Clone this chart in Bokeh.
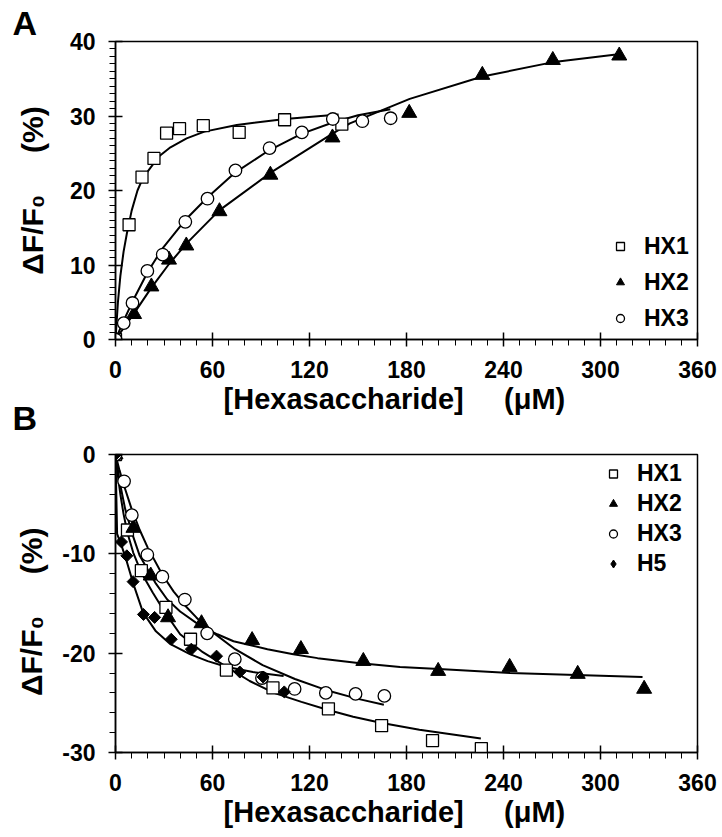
import math
from bokeh.plotting import figure
from bokeh.layouts import column
from bokeh.models import (Range1d, SingleIntervalTicker, Legend, LegendItem, Title,
                          PrintfTickFormatter)
from bokeh.embed import file_html
from bokeh.resources import INLINE

FONT = "Liberation Sans"

# ---------------- Panel A data ----------------
a_hx1_x = [0, 8.4, 16.4, 23.8, 31.6, 39.6, 54.3, 76.5, 104.6, 140.0]
a_hx1_y = [0, 15.4, 21.8, 24.3, 27.7, 28.3, 28.7, 27.8, 29.5, 28.9]
a_hx2_x = [0, 11.5, 22.2, 33.1, 43.8, 64.3, 95.8, 134.2, 181.7, 226.9, 270.5, 311.6]
a_hx2_y = [0, 3.4, 7.1, 10.7, 12.6, 17.2, 22.1, 27.1, 30.4, 35.5, 37.5, 38.1]
a_hx3_x = [0, 5.1, 10.5, 19.7, 29.2, 43.2, 56.9, 74.2, 95.3, 115.3, 134.4, 152.7, 170.2]
a_hx3_y = [0, 2.2, 4.9, 9.2, 11.4, 15.8, 18.9, 22.7, 25.7, 27.8, 29.6, 29.3, 29.7]

# fitted curves, panel A
a_hx1_fit_x = [0, 1.5, 3, 5, 7, 10, 13.6, 17, 21.8, 27, 34, 44, 55, 75, 105, 138]
a_hx1_fit_y = [0, 5.0, 8.5, 11.8, 14.2, 17.3, 20.0, 21.7, 23.1, 24.6, 25.8, 27.0, 27.9, 28.8, 29.6, 30.2]
a_hx2_fit_x = [0, 11.5, 22, 33, 44, 64, 96, 134, 145, 182, 227, 270, 311]
a_hx2_fit_y = [0, 3.5, 6.9, 10.1, 12.9, 17.3, 22.4, 27.6, 29.0, 32.3, 35.3, 37.2, 38.3]
a_hx3_fit_x = [0, 5, 11, 20, 29, 43, 57, 74, 95, 115, 134, 150, 170]
a_hx3_fit_y = [0, 2.5, 5.3, 9.1, 12.2, 16.0, 19.1, 22.4, 25.4, 27.6, 29.1, 30.1, 30.9]

# ---------------- Panel B data ----------------
b_hx1_x = [0, 7.4, 16.0, 31.2, 46.4, 68.6, 97.4, 131.7, 164.6, 196.1, 226.3]
b_hx1_y = [0, -7.6, -11.7, -15.4, -18.6, -21.7, -23.5, -25.6, -27.3, -28.8, -29.6]
b_hx2_x = [0, 11.1, 21.8, 32.5, 53.2, 84.5, 114.7, 153.3, 199.6, 243.8, 285.9, 327.0]
b_hx2_y = [0, -7.4, -12.2, -16.4, -17.0, -18.7, -19.6, -20.8, -21.8, -21.4, -22.1, -23.6]
b_hx3_x = [0, 5.3, 10.1, 19.7, 29.0, 42.9, 56.7, 73.8, 90.6, 110.8, 130.1, 148.5, 166.3]
b_hx3_y = [0, -2.7, -6.1, -10.1, -12.3, -14.6, -18.0, -20.6, -22.5, -23.6, -24.0, -24.1, -24.3]
b_h5_x = [0, 3.7, 7.0, 10.9, 17.3, 24.2, 34.5, 46.9, 62.5, 76.9, 91.3, 104.4]
b_h5_y = [0, -8.8, -10.2, -12.8, -16.1, -16.4, -18.6, -19.6, -20.3, -21.9, -22.4, -23.9]

b_hx1_fit_x = [0, 1.5, 3, 5, 7.4, 11, 16, 23, 31, 40, 54, 68, 83, 98, 115, 131, 147, 164, 188, 226]
b_hx1_fit_y = [0, -2.2, -4.0, -6.0, -7.9, -9.9, -11.9, -13.9, -16.0, -18.1, -19.9, -21.3, -22.8,
               -24.0, -24.9, -25.7, -26.4, -27.0, -27.7, -28.6]
b_hx2_fit_x = [0, 3, 6, 11, 15, 20, 25, 32, 40, 53, 63, 73, 94, 110, 125, 150, 176, 200, 244, 285, 326]
b_hx2_fit_y = [0, -3.1, -5.5, -8.3, -10.2, -11.6, -13.0, -14.6, -15.8, -17.3, -18.1, -18.8, -19.6,
               -20.1, -20.5, -21.0, -21.4, -21.6, -22.0, -22.2, -22.4]
b_hx3_fit_x = [0, 2.5, 5, 10, 15, 20, 29, 36, 43, 50, 57, 74, 91, 111, 130, 150, 166]
b_hx3_fit_y = [0, -1.6, -3.0, -5.5, -7.6, -9.4, -12.1, -13.8, -15.2, -16.4, -17.5, -19.6, -21.2,
               -22.6, -23.7, -24.6, -25.2]
b_h5_fit_x = [0, 1, 4, 7, 11, 17, 25, 34, 46, 57, 69, 85, 104]
b_h5_fit_y = [0, -8.0, -9.3, -10.8, -13.0, -15.9, -17.8, -19.1, -20.1, -20.8, -21.4, -21.9, -22.3]

NB = "\u00a0"
x_label = "[Hexasaccharide]" + NB * 5 + "(\u03bcM)" + NB * 3
y_label_a = "\u0394F/F\u2080" + NB * 5 + "(%)"
y_label_b = "\u0394F/F\u2080" + NB * 5 + "(%)" + NB * 2


def style_axes(p, y_minor, ylab, ystandoff):
    p.xaxis.ticker = SingleIntervalTicker(interval=60, num_minor_ticks=6)
    p.yaxis.ticker = SingleIntervalTicker(interval=10, num_minor_ticks=y_minor)
    p.yaxis.formatter = PrintfTickFormatter(format="%d")
    for ax in (p.xaxis, p.yaxis):
        ax.major_label_text_font = FONT
        ax.major_label_text_font_style = "bold"
        ax.major_label_text_font_size = "23px"
        ax.major_label_text_color = "black"
        ax.axis_label_text_font = FONT
        ax.axis_label_text_font_style = "bold"
        ax.axis_label_text_color = "black"
        ax.axis_line_width = 1.5
        ax.axis_line_color = "black"
        ax.major_tick_line_width = 1.5
        ax.major_tick_line_color = "black"
        ax.minor_tick_line_width = 1
        ax.minor_tick_line_color = "black"
        ax.major_tick_in = 7
        ax.major_tick_out = 7
        ax.minor_tick_in = 0
        ax.minor_tick_out = 6
    p.xaxis.major_label_standoff = 14
    p.yaxis.major_label_standoff = 13
    p.xaxis.axis_label = x_label
    p.xaxis.axis_label_text_font_size = "29px"
    p.xaxis.axis_label_standoff = 2
    p.yaxis.axis_label = ylab
    p.yaxis.axis_label_text_font_size = "30px"
    p.yaxis.axis_label_standoff = ystandoff
    p.grid.visible = False
    p.outline_line_color = "black"
    p.outline_line_width = 1.5
    p.background_fill_color = "white"
    p.border_fill_color = "white"


def letter(text, standoff, valign):
    return Title(text=text, align="left", offset=-103, standoff=standoff,
                 vertical_align=valign, text_font=FONT, text_font_style="bold",
                 text_font_size="34px", text_color="black")


def markers(p, xs, ys, kind):
    if kind == "square":
        return p.scatter(xs, ys, marker="square", size=12, fill_color="white",
                         line_color="black", line_width=1.3)
    if kind == "triangle":
        return p.scatter(xs, ys, marker="triangle", size=15, fill_color="black",
                         line_color="black", line_width=1)
    if kind == "circle":
        return p.scatter(xs, ys, marker="circle", size=12.5, fill_color="white",
                         line_color="black", line_width=1.3)
    return p.scatter(xs, ys, marker="square", size=8.5, angle=math.pi / 4,
                     fill_color="black", line_color="black", line_width=1)


def make_legend(items, loc, gh, sp):
    return Legend(items=items, location=loc, glyph_width=20, glyph_height=gh, label_height=gh,
                  spacing=sp, padding=0, margin=0, label_standoff=14,
                  label_text_font=FONT, label_text_font_style="bold", label_text_font_size="23px",
                  label_text_color="black", border_line_color=None, background_fill_alpha=0)


# ---------------- Panel A ----------------
pa = figure(width=722, height=440, x_range=Range1d(0, 360), y_range=Range1d(0, 40),
            output_backend="svg", toolbar_location=None,
            min_border_left=115, min_border_right=24, min_border_top=41, min_border_bottom=101)
style_axes(pa, 10, y_label_a, 18)
for fx, fy in ((a_hx1_fit_x, a_hx1_fit_y), (a_hx2_fit_x, a_hx2_fit_y), (a_hx3_fit_x, a_hx3_fit_y)):
    pa.line(fx, fy, line_color="black", line_width=2)
ra1 = markers(pa, a_hx1_x, a_hx1_y, "square")
ra2 = markers(pa, a_hx2_x, a_hx2_y, "triangle")
ra3 = markers(pa, a_hx3_x, a_hx3_y, "circle")
pa.add_layout(make_legend([LegendItem(label="HX1", renderers=[ra1]),
                           LegendItem(label="HX2", renderers=[ra2]),
                           LegendItem(label="HX3", renderers=[ra3])], (495, 6), 30, 6))
pa.add_layout(letter("A", 0, "bottom"), "above")
pa.add_layout(letter("B", -37, "top"), "below")

# ---------------- Panel B ----------------
pb = figure(width=722, height=397, x_range=Range1d(0, 360), y_range=Range1d(-30, 0),
            output_backend="svg", toolbar_location=None,
            min_border_left=115, min_border_right=25, min_border_top=14, min_border_bottom=85)
style_axes(pb, 5, y_label_b, 11)
for fx, fy in ((b_hx1_fit_x, b_hx1_fit_y), (b_hx2_fit_x, b_hx2_fit_y),
               (b_hx3_fit_x, b_hx3_fit_y), (b_h5_fit_x, b_h5_fit_y)):
    pb.line(fx, fy, line_color="black", line_width=2)
rb1 = markers(pb, b_hx1_x, b_hx1_y, "square")
rb2 = markers(pb, b_hx2_x, b_hx2_y, "triangle")
rb3 = markers(pb, b_hx3_x, b_hx3_y, "circle")
# legend key for H5: a zero-size diamond renderer on the same points (invisible in the plot)
rb4_key = pb.scatter(b_h5_x, b_h5_y, marker="diamond", size=0, fill_color="black",
                     line_color="black", line_width=1)
rb4 = markers(pb, b_h5_x, b_h5_y, "diamond")
pb.add_layout(make_legend([LegendItem(label="HX1", renderers=[rb1]),
                           LegendItem(label="HX2", renderers=[rb2]),
                           LegendItem(label="HX3", renderers=[rb3]),
                           LegendItem(label="H5", renderers=[rb4_key])], (488, 175), 27, 3))

layout = column(pa, pb, spacing=0)
open("out.html", "w").write(file_html(layout, INLINE))
